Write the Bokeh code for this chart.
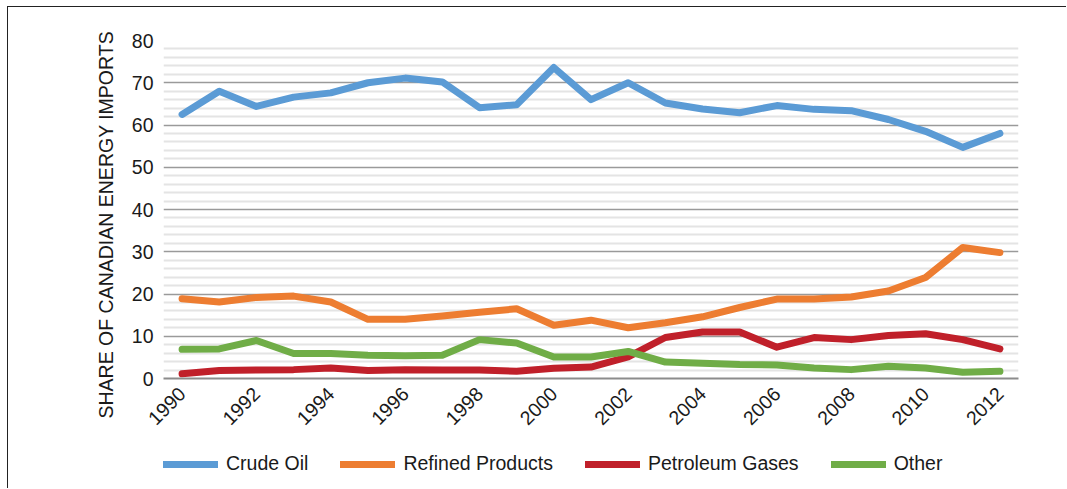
import math
from bokeh.plotting import figure
from bokeh.layouts import column
from bokeh.models import (FixedTicker, Legend, LegendItem, Range1d, Title)
from bokeh.embed import file_html
from bokeh.resources import INLINE

years = list(range(1990, 2013))
crude_oil = [62.5, 68.0, 64.4, 66.6, 67.6, 70.0, 71.1, 70.2, 64.1, 64.8, 73.6, 66.0,
             70.0, 65.2, 63.8, 62.9, 64.6, 63.7, 63.4, 61.3, 58.5, 54.7, 58.0]
refined_products = [18.9, 18.1, 19.2, 19.5, 18.1, 14.0, 14.0, 14.8, 15.7, 16.5, 12.6, 13.8,
                    12.0, 13.2, 14.6, 16.8, 18.8, 18.8, 19.3, 20.7, 23.9, 31.0, 29.8]
petroleum_gases = [1.1, 1.9, 2.0, 2.1, 2.5, 1.9, 2.1, 2.0, 2.0, 1.7, 2.4, 2.7,
                   5.1, 9.7, 11.0, 11.0, 7.4, 9.7, 9.2, 10.2, 10.6, 9.2, 7.0]
other = [6.9, 7.0, 9.0, 5.9, 5.9, 5.5, 5.4, 5.5, 9.2, 8.4, 5.1, 5.1,
         6.4, 3.9, 3.6, 3.3, 3.2, 2.5, 2.1, 2.9, 2.5, 1.5, 1.7]

series_names = ["Crude Oil", "Refined Products", "Petroleum Gases", "Other"]
series_values = [crude_oil, refined_products, petroleum_gases, other]
colors = ["#5b9bd5", "#ed7d31", "#c0202a", "#70ad47"]
x_ticks = list(range(1990, 2013, 2))
y_ticks = list(range(0, 81, 10))
y_minor = [v for v in range(0, 81, 2) if v % 10 != 0]
y_label = "SHARE OF CANADIAN ENERGY IMPORTS"

FONT = "Liberation Sans"
FS = "19.5px"
TXT = "#1a1a1a"

# ---------------- main chart ----------------
p = figure(width=1058, height=430, output_backend="svg", toolbar_location=None,
           x_range=Range1d(1989.5, 2012.5), y_range=Range1d(0, 80))
p.min_border_left = 155
p.min_border_right = 48
p.min_border_top = 33
p.min_border_bottom = 59
p.outline_line_color = None
p.background_fill_color = "white"
p.border_fill_color = "white"

p.xgrid.grid_line_color = None
p.ygrid.ticker = FixedTicker(ticks=y_ticks, minor_ticks=y_minor)
p.ygrid.grid_line_color = "#9a9a9a"
p.ygrid.grid_line_width = 1.6
p.ygrid.minor_grid_line_color = "#e4e4e4"
p.ygrid.minor_grid_line_width = 1.8

p.xaxis.ticker = FixedTicker(ticks=x_ticks)
p.xaxis.major_label_orientation = math.pi / 4
p.xaxis.axis_line_color = "#8c8c8c"
p.xaxis.axis_line_width = 2
p.xaxis.major_tick_line_color = None
p.xaxis.minor_tick_line_color = None
p.xaxis.major_label_text_font = FONT
p.xaxis.major_label_text_font_size = FS
p.xaxis.major_label_text_color = TXT
p.xaxis.major_label_standoff = 6

p.yaxis.ticker = FixedTicker(ticks=y_ticks)
p.yaxis.axis_line_color = None
p.yaxis.major_tick_line_color = None
p.yaxis.minor_tick_line_color = None
p.yaxis.major_label_text_font = FONT
p.yaxis.major_label_text_font_size = FS
p.yaxis.major_label_text_color = TXT
p.yaxis.major_label_standoff = 4

ytitle = Title(text=y_label, align="left", offset=-40, standoff=24,
               text_font=FONT, text_font_size=FS, text_font_style="normal",
               text_color=TXT)
p.add_layout(ytitle, "left")

for name, vals, col in zip(series_names, series_values, colors):
    p.line(years, vals, line_color=col, line_width=7,
           line_cap="round", line_join="round")

# ---------------- legend strip ----------------
# the same series are drawn here outside the visible range; only their legend shows
lg = figure(width=1058, height=51, output_backend="svg", toolbar_location=None,
            x_range=Range1d(0, 1), y_range=Range1d(0, 1),
            x_axis_type=None, y_axis_type=None)
lg.min_border = 0
lg.outline_line_color = None
lg.xgrid.grid_line_color = None
lg.ygrid.grid_line_color = None
items = []
for name, vals, col in zip(series_names, series_values, colors):
    r = lg.line(years, vals, line_color=col, line_width=7, line_cap="round")
    items.append(LegendItem(label=name, renderers=[r]))
legend = Legend(items=items, orientation="horizontal", location=(0, 13),
                padding=0, margin=0, spacing=32, label_standoff=8,
                glyph_width=55, glyph_height=20, label_height=20,
                border_line_color=None, background_fill_alpha=0,
                label_text_font=FONT, label_text_font_size=FS,
                label_text_color=TXT)
lg.add_layout(legend, "center")

layout = column(p, lg, spacing=0,
                styles={"margin-left": "7px", "margin-top": "6px",
                        "border-left": "1.5px solid #222222",
                        "border-top": "1.5px solid #222222"})

open("out.html", "w").write(file_html(layout, INLINE))
